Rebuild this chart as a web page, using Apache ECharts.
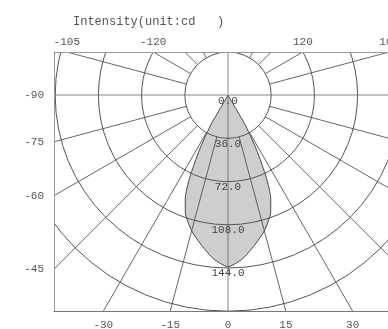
<!DOCTYPE html>
<html><head><meta charset="utf-8">
<script src="https://cdn.jsdelivr.net/npm/echarts@6/dist/echarts.min.js"></script>
<style>html,body{margin:0;padding:0;background:#fff}#c{width:388px;height:329px}</style>
</head><body><div id="c"></div>
<script>
// ---- data ----
const angles = [-35, -30, -27.5, -25, -22.5, -20, -15, -10, -5, 0, 5, 10, 15, 20, 22.5, 25, 27.5, 30, 35];
const intensity = [0, 30, 52, 75, 93, 104, 117, 127, 137, 143, 137, 127, 117, 104, 93, 75, 52, 30, 0];
const ringTicks = [0, 36, 72, 108, 144, 180];
const bottomAngleLabels = [-30, -15, 0, 15, 30];
const leftAngleLabels = [-45, -60, -75, -90];
const topAngleLabels = [-105, -120, 120, 105];
const titleText = 'Intensity(unit:cd   )';

// ---- layout ----
const PX = 1.2;            // pixels per cd
const FRAME_LEFT = 54, FRAME_TOP = 52;
const X_HALF = 145, Y_TOP = 36, R_MAX = ringTicks[ringTicks.length - 1];
const CX = FRAME_LEFT + X_HALF * PX;
const CY = FRAME_TOP + Y_TOP * PX;
const FRAME_W = 2 * X_HALF * PX, FRAME_H = (Y_TOP + R_MAX) * PX;
const FRAME_BOTTOM = FRAME_TOP + FRAME_H;
const FONT = 'Liberation Mono';
const TXT = '#555';
const rad = d => d * Math.PI / 180;

// positions (in cd units) where the radial angle lines meet the frame
const bottomVals = bottomAngleLabels.map(a => R_MAX * Math.tan(rad(a)));
const leftVals = leftAngleLabels.map(a => X_HALF / Math.tan(rad(a)));
const topVals = topAngleLabels.map(a => -Y_TOP * Math.tan(rad(a)));
function fmt(vals, labels) {
  return v => {
    let b = 0;
    for (let i = 1; i < vals.length; i++) if (Math.abs(vals[i] - v) < Math.abs(vals[b] - v)) b = i;
    return String(labels[b]);
  };
}
const labelStyle = { color: TXT, fontFamily: FONT, fontSize: 11 };

const chart = echarts.init(document.getElementById('c'), null, { renderer: 'canvas' });
chart.setOption({
  animation: false,
  backgroundColor: '#fff',
  title: {
    text: titleText, left: 68, top: 11, z: 30,
    textStyle: { fontFamily: FONT, fontSize: 12, fontWeight: 'normal', color: TXT }
  },
  grid: { left: FRAME_LEFT, top: FRAME_TOP, width: FRAME_W, height: FRAME_H, containLabel: false, outerBoundsMode: 'none' },
  xAxis: [
    { type: 'value', position: 'bottom', min: -X_HALF, max: X_HALF, z: 20,
      axisLine: { show: true, onZero: false, lineStyle: { color: '#777', width: 1 } },
      axisTick: { show: false }, splitLine: { show: false },
      axisLabel: Object.assign({ customValues: bottomVals, formatter: fmt(bottomVals, bottomAngleLabels), margin: 8 }, labelStyle) },
    { type: 'value', position: 'top', min: -X_HALF, max: X_HALF, z: 20,
      axisLine: { show: true, onZero: false, lineStyle: { color: '#999', width: 1 } },
      axisTick: { show: false }, splitLine: { show: false },
      axisLabel: Object.assign({ customValues: topVals, formatter: fmt(topVals, topAngleLabels), margin: 4 }, labelStyle) }
  ],
  yAxis: [
    { type: 'value', position: 'left', min: -R_MAX, max: Y_TOP, z: 20,
      axisLine: { show: true, onZero: false, lineStyle: { color: '#999', width: 1 } },
      axisTick: { show: false }, splitLine: { show: false },
      axisLabel: Object.assign({ customValues: leftVals, formatter: fmt(leftVals, leftAngleLabels), margin: 10 }, labelStyle) },
    { type: 'value', position: 'right', min: -R_MAX, max: Y_TOP, z: 20,
      axisLine: { show: true, onZero: false, lineStyle: { color: '#999' } },
      axisTick: { show: false }, splitLine: { show: false }, axisLabel: { show: false } }
  ],
  polar: [
    { center: [CX, CY], radius: R_MAX * PX },
    { center: [CX, CY], radius: [ringTicks[1] * PX, 300] }
  ],
  angleAxis: [
    { polarIndex: 0, type: 'value', min: 0, max: 360, startAngle: -90, clockwise: false,
      axisLine: { show: false }, axisTick: { show: false }, axisLabel: { show: false }, splitLine: { show: false } },
    { polarIndex: 1, type: 'value', min: 0, max: 360, interval: 15, startAngle: -90, clockwise: false,
      axisLine: { show: false }, axisTick: { show: false }, axisLabel: { show: false },
      splitLine: { show: true, lineStyle: { width: 1, color: ['rgba(0,0,0,0)', '#666', '#666', '#666', '#666', '#666'] } } }
  ],
  radiusAxis: [
    { polarIndex: 0, type: 'value', min: 0, max: R_MAX, interval: ringTicks[1], z: 12,
      axisLine: { show: false }, axisTick: { show: false },
      splitLine: { show: true, lineStyle: { color: '#555', width: 1 } },
      axisLabel: Object.assign({ margin: 0, align: 'center', verticalAlign: 'top', padding: [0, 0, 0, 0],
        formatter: v => (v === R_MAX ? '' : v.toFixed(1)) }, labelStyle, { color: '#444' }) },
    { polarIndex: 1, type: 'value', min: 0, max: 1, show: false,
      axisLine: { show: false }, axisTick: { show: false }, axisLabel: { show: false }, splitLine: { show: false } }
  ],
  graphic: [
    { type: 'rect', z: 15, silent: true, shape: { x: 0, y: 0, width: 388, height: FRAME_TOP }, style: { fill: '#fff' } },
    { type: 'rect', z: 15, silent: true, shape: { x: 0, y: 0, width: FRAME_LEFT, height: 329 }, style: { fill: '#fff' } },
    { type: 'rect', z: 15, silent: true, shape: { x: 0, y: FRAME_BOTTOM, width: 388, height: 329 - FRAME_BOTTOM }, style: { fill: '#fff' } }
  ],
  series: [
    { type: 'line', coordinateSystem: 'polar', polarIndex: 0, z: 5,
      data: angles.map((a, i) => [intensity[i], a]),
      symbol: 'none', smooth: 0.2,
      lineStyle: { color: '#444', width: 1 },
      areaStyle: { color: 'rgba(80,80,80,0.4)' } },
    { type: 'scatter', xAxisIndex: 0, yAxisIndex: 0, data: [], z: 6,
      markLine: { silent: true, symbol: 'none', label: { show: false },
        lineStyle: { color: '#c2c2c2', width: 2, type: 'solid' },
        data: [{ xAxis: 0 }, { yAxis: 0 }] } }
  ]
});
</script></body></html>
